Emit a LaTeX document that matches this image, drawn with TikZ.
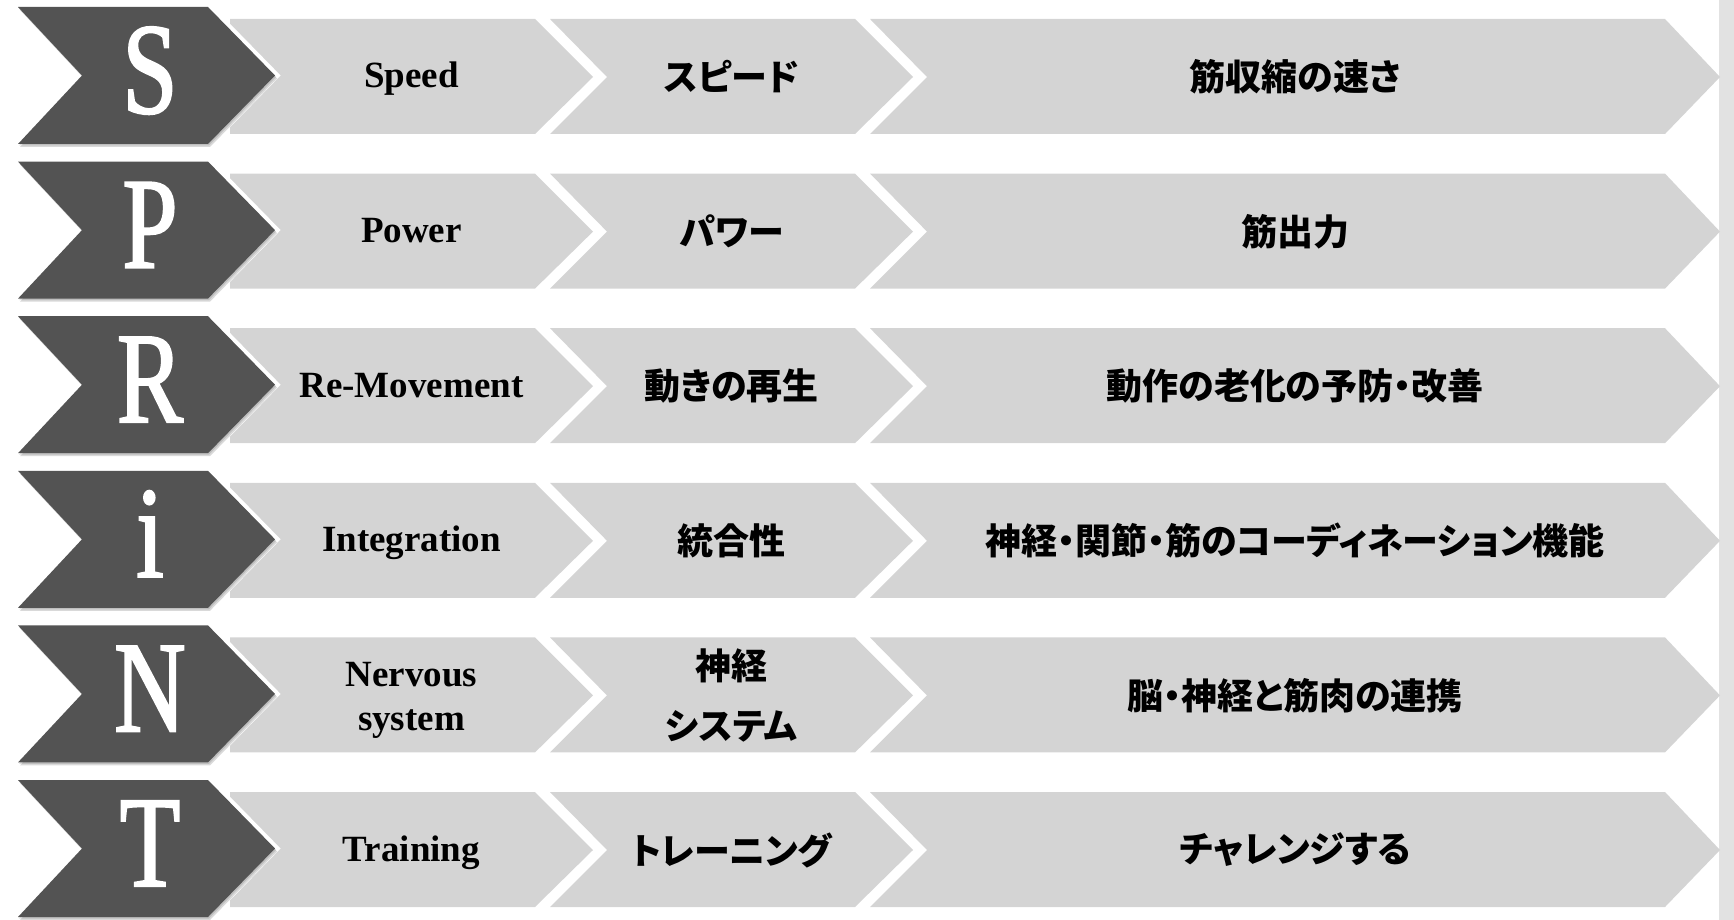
\documentclass[tikz,border=0pt]{standalone}
\usepackage{fontspec}
\setmainfont{Liberation Serif}
\newfontfamily\bigfont{Liberation Serif}[FakeStretch=0.76,FakeBold=1.6]
\newfontfamily\jpfont{Noto Sans CJK JP}[RawFeature={+palt}]
\definecolor{lightg}{RGB}{212,212,212}
\definecolor{darkg}{RGB}{83,83,83}
\definecolor{barg}{RGB}{226,226,226}
\tikzset{
  lat/.style={font=\bfseries\fontsize{37}{44}\selectfont, align=center, inner sep=0pt},
  jp/.style={font=\jpfont\bfseries\fontsize{36}{60}\selectfont, align=center, inner sep=0pt},
  big/.style={font=\bigfont\fontsize{130}{130}\selectfont, text=white, inner sep=0pt, anchor=base},
}
\begin{document}
\begin{tikzpicture}[x=1pt,y=-1pt]
\useasboundingbox (0,0) rectangle (1734,920);
\fill[barg] (1719,0) rectangle (1734,920);
\foreach \i in {0,...,5}{
  \pgfmathsetmacro\cy{77+154.6*\i}
  % light chevrons
  \fill[lightg] (230,\cy-58) -- (535,\cy-58) -- (593,\cy) -- (535,\cy+57) -- (230,\cy+57) -- cycle;
  \fill[lightg] (550,\cy-58) -- (855,\cy-58) -- (913,\cy) -- (855,\cy+57) -- (550,\cy+57) -- (607,\cy) -- cycle;
  \fill[lightg] (870,\cy-58) -- (1665,\cy-58) -- (1720,\cy) -- (1665,\cy+57) -- (870,\cy+57) -- (927,\cy) -- cycle;
  % dark chevron
  \draw[white, line width=8pt, line join=miter] (18,\cy-70) -- (208,\cy-70) -- (275,\cy-1.5) -- (208,\cy+67) -- (18,\cy+67) -- (82,\cy-1.5) -- cycle;
  \fill[black, opacity=0.15] (20,\cy-67) -- (210,\cy-67) -- (277,\cy+1.5) -- (210,\cy+70) -- (20,\cy+70) -- (84,\cy+1.5) -- cycle;
  \fill[black, opacity=0.12] (19,\cy-68.5) -- (209,\cy-68.5) -- (276,\cy) -- (209,\cy+68.5) -- (19,\cy+68.5) -- (83,\cy) -- cycle;
  \fill[darkg] (18,\cy-70) -- (208,\cy-70) -- (275,\cy-1.5) -- (208,\cy+67) -- (18,\cy+67) -- (82,\cy-1.5) -- cycle;
}
% row 1
\node[big] (s) at (150,113) {S};
\node[lat, anchor=base] (speed) at (411.5,88) {Speed};
\node[jp] (speedj) at (731.5,77) {スピード};
\node[jp] (speedd) at (1295,77) {筋収縮の速さ};
% row 2
\node[big] (p) at (150,267.6) {P};
\node[lat, anchor=base] (power) at (411.5,242.6) {Power};
\node[jp] (powerj) at (731.5,231.6) {パワー};
\node[jp] (powerd) at (1295,231.6) {筋出力};
% row 3
\node[big] (r) at (150,422.2) {R};
\node[lat, anchor=base] (remov) at (411.5,397.2) {Re-Movement};
\node[jp] (removj) at (731.5,386.2) {動きの再生};
\node[jp] (removd) at (1295,386.2) {動作の老化の予防・改善};
% row 4
\node[big] (i) at (150,576.8) {i};
\node[lat, anchor=base] (integ) at (411.5,551.8) {Integration};
\node[jp] (integj) at (731.5,540.8) {統合性};
\node[jp] (integd) at (1295,540.8) {神経・関節・筋のコーディネーション機能};
% row 5
\node[big] (n) at (150,731.4) {N};
\node[lat] (nerv) at (411.5,700.4) {Nervous\\system};
\node[jp] (nervj) at (731.5,695.4) {神経\\システム};
\node[jp] (nervd) at (1295,695.4) {脳・神経と筋肉の連携};
% row 6
\node[big] (t) at (150,886) {T};
\node[lat, anchor=base] (train) at (411.5,861) {Training};
\node[jp] (trainj) at (731.5,850) {トレーニング};
\node[jp] (traind) at (1295,850) {チャレンジする};
\end{tikzpicture}
\end{document}
